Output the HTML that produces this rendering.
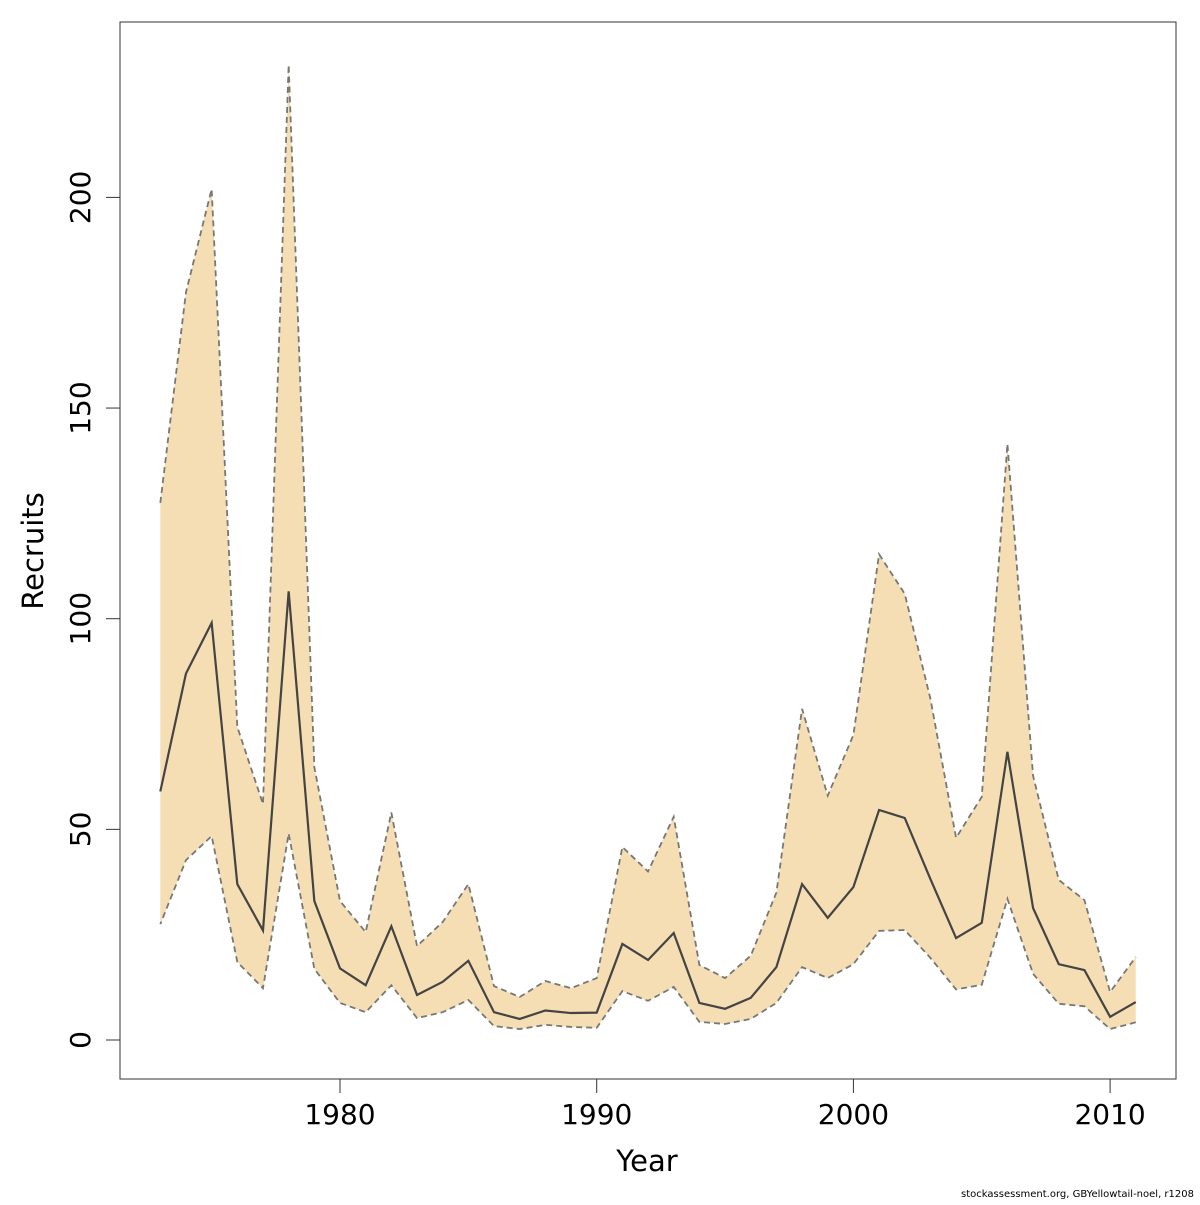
<!DOCTYPE html>
<html><head><meta charset="utf-8"><style>
html,body{margin:0;padding:0;background:#fff;}
svg text{font-family:"DejaVu Sans","Liberation Sans",sans-serif;}
</style></head><body>
<svg id="chart" width="1200" height="1200" xmlns="http://www.w3.org/2000/svg">
<rect x="120" y="22" width="1056" height="1057" fill="none" stroke="#333" stroke-width="1"/>
<g id="marks"></g>
<g id="axes"></g>
<text x="647" y="1171" font-size="29" text-anchor="middle">Year</text>
<text transform="translate(43,551) rotate(-90)" font-size="29" text-anchor="middle">Recruits</text>
<text x="1194" y="1197" font-size="10" text-anchor="end">stockassessment.org, GBYellowtail-noel, r1208</text>
</svg>
<script>
const years=[1973,1974,1975,1976,1977,1978,1979,1980,1981,1982,1983,1984,1985,1986,1987,1988,1989,1990,1991,1992,1993,1994,1995,1996,1997,1998,1999,2000,2001,2002,2003,2004,2005,2006,2007,2008,2009,2010,2011];
const median=[59,87,99,37,26,106.5,33,17,13,27,10.7,13.8,18.8,6.6,5,7,6.4,6.5,22.8,19,25.4,8.8,7.4,10,17.3,37,29,36.3,54.6,52.7,38.2,24.2,27.8,68.4,31.3,18,16.6,5.5,9];
const upper=[127.5,177.5,202,74.3,56,231.5,64.8,33,25.6,54,22.3,28,37,12.8,10.2,14,12.3,14.7,45.8,40,53,17.8,14.7,20,35,78.6,58,72.4,115.3,105.9,81,48,57.7,141.5,62.7,38,33.2,11.4,19.7];
const lower=[27.5,42.7,48.4,18.5,12.3,49,16.9,8.8,6.6,13,5.2,6.6,9.5,3.3,2.6,3.6,3.1,2.9,11.6,9.3,12.6,4.3,3.8,5,8.8,17.3,14.7,18,25.9,26.1,19.5,12,13.1,33.5,15.7,8.6,8,2.6,4.2];
const xTicks=[1980,1990,2000,2010];
const yTicks=[0,50,100,150,200];

const NS="http://www.w3.org/2000/svg";
const xs=y=>340+(y-1980)*25.67;
const ys=v=>1040-v*4.213;
const marks=document.getElementById('marks'),axes=document.getElementById('axes');
function mk(tag,attrs,parent){const e=document.createElementNS(NS,tag);for(const k in attrs)e.setAttribute(k,attrs[k]);parent.appendChild(e);return e;}
const up=years.map((y,i)=>xs(y)+','+ys(upper[i]));
const lo=years.map((y,i)=>xs(y)+','+ys(lower[i])).reverse();
const band=mk('polygon',{points:up.concat(lo).join(' '),fill:'#f5deb3',stroke:'none'},marks);


const ul=mk('polyline',{points:up.join(' '),fill:'none',stroke:'#777','stroke-width':1.8,'stroke-dasharray':'6,4'},marks);


const ll=mk('polyline',{points:lo.join(' '),fill:'none',stroke:'#777','stroke-width':1.8,'stroke-dasharray':'6,4'},marks);


const ml=mk('polyline',{points:years.map((y,i)=>xs(y)+','+ys(median[i])).join(' '),fill:'none',stroke:'#444','stroke-width':2.2},marks);


mk('line',{x1:xs(xTicks[0]),x2:xs(xTicks[xTicks.length-1]),y1:1079,y2:1079,stroke:'#333'},axes);
xTicks.forEach(t=>{
  mk('line',{x1:xs(t),x2:xs(t),y1:1079,y2:1093,stroke:'#333'},axes);
  const tx=mk('text',{x:xs(t),y:1124,'font-size':28,'text-anchor':'middle'},axes);
  tx.textContent=t;
  
  
});
mk('line',{x1:120,x2:120,y1:ys(yTicks[0]),y2:ys(yTicks[yTicks.length-1]),stroke:'#333'},axes);
yTicks.forEach(t=>{
  mk('line',{x1:106,x2:120,y1:ys(t),y2:ys(t),stroke:'#333'},axes);
  const tx=mk('text',{transform:`translate(90,${ys(t)}) rotate(-90)`,'font-size':28,'text-anchor':'middle'},axes);
  tx.textContent=t;
  
  
});
</script>
</body></html>
